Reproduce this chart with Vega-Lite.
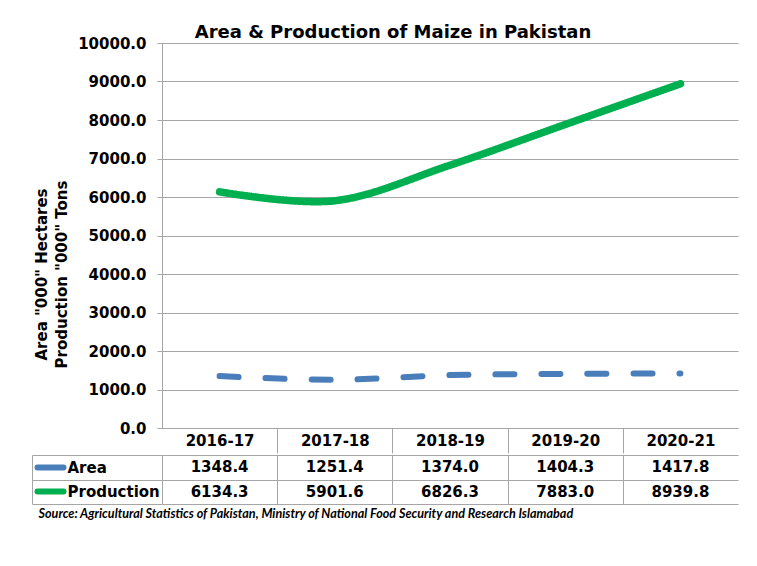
{
  "$schema": "https://vega.github.io/schema/vega-lite/v6.json",
  "padding": {"left": 31, "top": 24, "right": 10, "bottom": 10},
  "title": {"text": "Area & Production of Maize in Pakistan", "fontSize": 18, "font": "DejaVu Sans", "fontWeight": "bold", "anchor": "middle", "dx": 8, "offset": -6, "color": "#000000"},
  "config": {
    "font": "DejaVu Sans",
    "axis": {"labelColor": "#000000", "titleColor": "#000000", "labelFont": "DejaVu Sans", "titleFont": "DejaVu Sans"},
    "view": {"stroke": null}
  },
  "datasets": {
    "maize": [
      {"year": "2016-17", "series": "Area", "value": 1348.4},
      {"year": "2017-18", "series": "Area", "value": 1251.4},
      {"year": "2018-19", "series": "Area", "value": 1374.0},
      {"year": "2019-20", "series": "Area", "value": 1404.3},
      {"year": "2020-21", "series": "Area", "value": 1417.8},
      {"year": "2016-17", "series": "Production", "value": 6134.3},
      {"year": "2017-18", "series": "Production", "value": 5901.6},
      {"year": "2018-19", "series": "Production", "value": 6826.3},
      {"year": "2019-20", "series": "Production", "value": 7883.0},
      {"year": "2020-21", "series": "Production", "value": 8939.8}
    ]
  },
  "spacing": -6,
  "vconcat": [
    {
      "width": 576,
      "height": 385,
      "data": {"name": "maize"},
      "mark": {"type": "line", "interpolate": "cardinal", "strokeCap": "round"},
      "encoding": {
        "x": {
          "field": "year", "type": "ordinal",
          "scale": {"type": "band", "paddingInner": 0, "paddingOuter": 0},
          "axis": {"title": null, "orient": "bottom", "labelAngle": 0, "labelFontSize": 15, "labelFontWeight": "bold", "labelBaseline": "middle", "labelPadding": -12.5, "tickBand": "extent", "tickSize": 25, "tickColor": {"condition": {"test": "datum.value === '2020-21' || datum.value == null", "value": "transparent"}, "value": "#a6a6a6"}, "domainColor": "#a6a6a6", "grid": false}
        },
        "y": {
          "field": "value", "type": "quantitative",
          "scale": {"domain": [0, 10000], "nice": false},
          "axis": {"values": [0, 1000, 2000, 3000, 4000, 5000, 6000, 7000, 8000, 9000, 10000], "format": ".1f", "labelFontSize": 15, "labelFontWeight": "bold", "labelPadding": 11, "tickSize": 5, "tickColor": "#a6a6a6", "domainColor": "#a6a6a6", "grid": true, "gridColor": "#a6a6a6", "title": ["Area \"000\" Hectares", "Production \"000\" Tons"], "titleFontSize": 15, "titleFontWeight": "bold", "titlePadding": 8, "titleY": 231, "titleLineHeight": 20}
        },
        "color": {"field": "series", "type": "nominal", "scale": {"domain": ["Area", "Production"], "range": ["#4a7ebb", "#00b050"]}, "legend": null},
        "strokeDash": {"field": "series", "type": "nominal", "scale": {"domain": ["Area", "Production"], "range": [[19, 27], [1, 0]]}, "legend": null},
        "strokeWidth": {"field": "series", "type": "ordinal", "scale": {"domain": ["Area", "Production"], "range": [6, 7.5]}, "legend": null}
      }
    },
    {
      "width": 576,
      "height": 49,
      "data": {"name": "maize"},
      "encoding": {
        "x": {
          "field": "year", "type": "ordinal",
          "scale": {"type": "band", "paddingInner": 0, "paddingOuter": 0},
          "axis": {"labels": false, "ticks": false, "domain": false, "grid": true, "tickBand": "extent", "gridColor": {"condition": {"test": "datum.value === '2020-21'", "value": "transparent"}, "value": "#a6a6a6"}, "zindex": 1, "title": "Source: Agricultural Statistics of Pakistan, Ministry of National Food Security and Research Islamabad", "titleFont": "Lato", "titleFontStyle": "italic", "titleFontWeight": "bold", "titleFontSize": 12.6, "titleAnchor": "start", "titleAlign": "left", "titleX": -124, "titlePadding": 3, "titleColor": "#000000"}
        }
      },
      "layer": [
        {
          "mark": {"type": "rect", "fill": "#ffffff"},
          "encoding": {
            "y": {
              "field": "series", "type": "nominal",
              "scale": {"type": "band", "paddingInner": 0, "paddingOuter": 0},
              "axis": {"orient": "left", "title": null, "offset": 99, "labels": false, "domain": false, "grid": false, "ticks": true, "tickSize": 26, "tickWidth": 6, "tickCap": "round", "tickColor": {"condition": {"test": "datum.value === 'Area'", "value": "#4a7ebb"}, "value": "#00b050"}}
            }
          }
        },
        {
          "mark": {"type": "text", "fontSize": 15, "fontWeight": "bold", "font": "DejaVu Sans", "color": "#000000"},
          "encoding": {
            "y": {
              "field": "series", "type": "nominal",
              "axis": {"orient": "left", "title": null, "offset": 130, "tickSize": -130, "tickBand": "extent", "tickColor": "#a6a6a6", "domainColor": "#a6a6a6", "grid": true, "gridColor": "#a6a6a6", "zindex": 1, "labelAlign": "left", "labelPadding": 95, "labelBaseline": "middle", "labelFontSize": 15, "labelFontWeight": "bold"}
            },
            "text": {"field": "value", "type": "quantitative", "format": ".1f"}
          }
        }
      ],
      "resolve": {"axis": {"y": "independent"}}
    }
  ]
}
